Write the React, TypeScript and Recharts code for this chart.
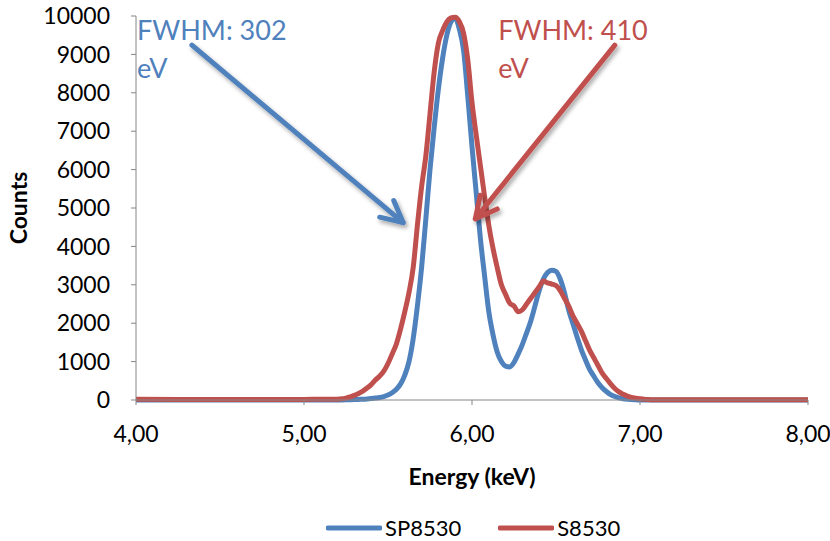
import React from 'react';
import {
  LineChart,
  Line,
  XAxis,
  YAxis,
  Legend,
  ReferenceLine,
  ReferenceDot,
} from 'recharts';

const energy = [
  4.0, 4.25, 4.5, 4.75, 5.0, 5.1,
  5.2, 5.225, 5.25, 5.275, 5.3, 5.325, 5.35, 5.375, 5.4, 5.425,
  5.45, 5.475, 5.5, 5.525, 5.55, 5.575, 5.6, 5.625, 5.65, 5.675,
  5.7, 5.725, 5.75, 5.775, 5.8, 5.825, 5.85, 5.875, 5.9, 5.925,
  5.95, 5.975, 6.0, 6.025, 6.05, 6.075, 6.1, 6.125, 6.15, 6.175,
  6.2, 6.225, 6.25, 6.275, 6.3, 6.325, 6.35, 6.375, 6.4, 6.425,
  6.45, 6.475, 6.5, 6.525, 6.55, 6.575, 6.6, 6.625, 6.65, 6.675,
  6.7, 6.725, 6.75, 6.775, 6.8, 6.825, 6.85, 6.875, 6.9, 6.925,
  6.95, 6.975, 7.0, 7.025, 7.05, 7.075, 7.1,
  7.25, 7.5, 7.75, 8.0,
];

const sp8530 = [
  0, 0, 0, 0, 0, 0,
  0, 2, 4, 6, 10, 15, 20, 28, 38, 50,
  65, 90, 130, 190, 280, 420, 650, 1000, 1600, 2450,
  3450, 4700, 6000, 7100, 8100, 8900, 9500, 9850, 9950, 9650,
  9100, 7900, 6600, 5400, 4200, 3230, 2300, 1700, 1250, 1000,
  880, 860, 980, 1200, 1450, 1750, 2060, 2450, 2850, 3150,
  3320, 3380, 3350, 3150, 2800, 2350, 2000, 1650, 1320, 1050,
  800, 620, 450, 320, 220, 140, 90, 55, 30, 20,
  10, 5, 0, 0, 0, 0, 0,
  0, 0, 0, 0,
];

const s8530 = [
  20, 15, 15, 15, 15, 20,
  20, 30, 50, 80, 120, 170, 230, 310, 400, 520,
  620, 750, 950, 1200, 1460, 1850, 2300, 2800, 3450, 4550,
  5550, 6350, 7450, 8550, 9300, 9620, 9850, 9950, 9970, 9850,
  9550, 8850, 7750, 6900, 6100, 5300, 4550, 3950, 3450, 3000,
  2750, 2520, 2450, 2300, 2350, 2500, 2650, 2800, 2950, 3100,
  3050, 3020, 2980, 2850, 2650, 2450, 2200, 2000, 1800, 1550,
  1300, 1100, 900, 700, 560, 420, 300, 210, 150, 100,
  70, 45, 30, 20, 10, 5, 5,
  5, 5, 5, 5,
];

const xTicks = [4, 5, 6, 7, 8];
const yTicks = [0, 1000, 2000, 3000, 4000, 5000, 6000, 7000, 8000, 9000, 10000];

const BLUE = '#4F81BD';
const RED = '#C0504D';
const AXIS = '#868686';
const FONT = 'Lato, "Open Sans", sans-serif';

const data = energy.map((e, i) => ({ energy: e, sp8530: sp8530[i], s8530: s8530[i] }));

// arrow drawn from (x1,y1) to tip (x2,y2), open head
const makeArrow = (color: string, id: string) => (props: any) => {
  const { x1, y1, x2, y2 } = props;
  const ang = Math.atan2(y2 - y1, x2 - x1);
  const len = 24;
  const spread = (27 * Math.PI) / 180;
  const ax = x2 - len * Math.cos(ang - spread);
  const ay = y2 - len * Math.sin(ang - spread);
  const bx = x2 - len * Math.cos(ang + spread);
  const by = y2 - len * Math.sin(ang + spread);
  return (
    <g>
      <defs>
        <filter id={id} x="-20%" y="-20%" width="140%" height="140%">
          <feDropShadow dx="2" dy="3" stdDeviation="2" floodColor="#000" floodOpacity="0.35" />
        </filter>
      </defs>
      <g filter={`url(#${id})`} stroke={color} strokeWidth={5} fill="none" strokeLinecap="round" strokeLinejoin="round">
        <line x1={x1} y1={y1} x2={x2} y2={y2} />
        <polyline points={`${ax},${ay} ${x2},${y2} ${bx},${by}`} />
      </g>
    </g>
  );
};

const makeNote = (color: string, line1: string, line2: string) => (props: any) => {
  const { cx, cy } = props;
  return (
    <text x={cx + 1} y={cy + 24} fill={color} fontSize={27} fontFamily={FONT}>
      <tspan x={cx + 1}>{line1}</tspan>
      <tspan x={cx + 1} dy={38}>{line2}</tspan>
    </text>
  );
};

const renderLegend = () => (
  <div style={{ display: 'flex', alignItems: 'center', fontFamily: FONT, fontSize: 22, color: '#000' }}>
    {[
      { name: 'SP8530', color: BLUE },
      { name: 'S8530', color: RED },
    ].map((item, i) => (
      <div key={item.name} style={{ display: 'flex', alignItems: 'center', marginLeft: i === 0 ? 0 : 37 }}>
        <svg width={56} height={10}>
          <line x1={2} y1={5} x2={54} y2={5} stroke={item.color} strokeWidth={5} strokeLinecap="round" />
        </svg>
        <span style={{ marginLeft: 3 }}>{item.name}</span>
      </div>
    ))}
  </div>
);

export default function App() {
  return (
    <div style={{ position: 'absolute', left: 0, top: 0, background: '#fff' }}>
      <LineChart
        width={830}
        height={541}
        data={data}
        margin={{ top: 16, right: 22, left: 0, bottom: 0 }}
        style={{ fontFamily: FONT }}
      >
        <XAxis
          dataKey="energy"
          type="number"
          domain={[4, 8]}
          ticks={xTicks}
          tickFormatter={(v: number) => v.toFixed(2).replace('.', ',')}
          stroke={AXIS}
          tickSize={5}
          tickMargin={21}
          tick={{ fill: '#000', fontSize: 23 }}
          height={111}
          label={{ value: 'Energy (keV)', position: 'insideBottom', offset: 26, fill: '#000', fontSize: 23, fontWeight: 'bold' }}
        />
        <YAxis
          type="number"
          domain={[0, 10000]}
          ticks={yTicks}
          stroke={AXIS}
          tickSize={5}
          tickMargin={21}
          tick={{ fill: '#000', fontSize: 23 }}
          width={136}
          label={{ value: 'Counts', angle: -90, position: 'insideLeft', offset: 19, fill: '#000', fontSize: 23, fontWeight: 'bold', style: { textAnchor: 'middle' } }}
        />
        <Legend
          verticalAlign="bottom"
          height={30}
          content={renderLegend}
          wrapperStyle={{ left: 326, top: 514 }}
        />
        <Line
          name="SP8530"
          dataKey="sp8530"
          type="monotone"
          stroke={BLUE}
          strokeWidth={5}
          dot={false}
          isAnimationActive={false}
        />
        <Line
          name="S8530"
          dataKey="s8530"
          type="monotone"
          stroke={RED}
          strokeWidth={5}
          dot={false}
          isAnimationActive={false}
        />
        <ReferenceLine
          segment={[{ x: 4.333, y: 9240 }, { x: 5.59, y: 4620 }]}
          shape={makeArrow(BLUE, 'shadowBlue')}
        />
        <ReferenceLine
          segment={[{ x: 6.85, y: 9240 }, { x: 6.02, y: 4720 }]}
          shape={makeArrow(RED, 'shadowRed')}
        />
        <ReferenceDot x={4.0} y={10000} r={0} shape={makeNote(BLUE, 'FWHM: 302', 'eV')} />
        <ReferenceDot x={6.15} y={10000} r={0} shape={makeNote(RED, 'FWHM: 410', 'eV')} />
      </LineChart>
    </div>
  );
}
